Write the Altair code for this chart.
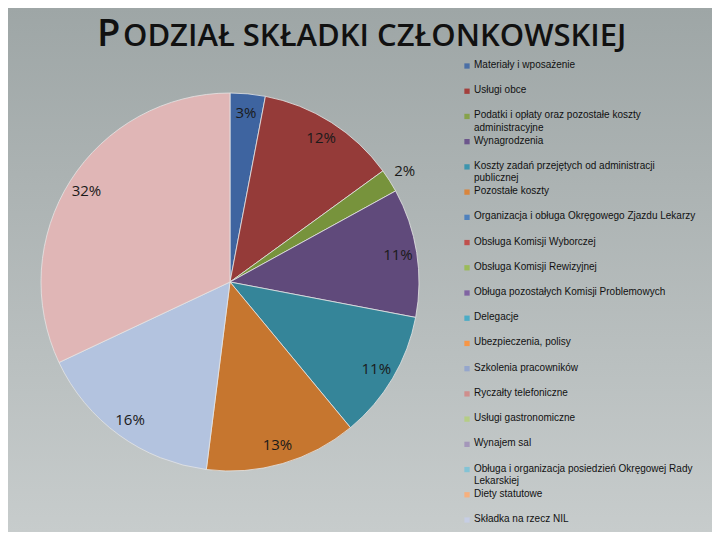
import altair as alt
import pandas as pd

title_parts = ["P", "ODZIAŁ SKŁADKI CZŁONKOWSKIEJ"]

categories = [
    "Materiały i wposażenie",
    "Usługi obce",
    "Podatki i opłaty oraz pozostałe koszty administracyjne",
    "Wynagrodzenia",
    "Koszty zadań przejętych od administracji publicznej",
    "Pozostałe koszty",
    "Organizacja i obługa Okręgowego Zjazdu Lekarzy",
    "Obsługa Komisji Wyborczej",
    "Obsługa Komisji Rewizyjnej",
    "Obługa pozostałych Komisji Problemowych",
    "Delegacje",
    "Ubezpieczenia, polisy",
    "Szkolenia pracowników",
    "Ryczałty telefoniczne",
    "Usługi gastronomiczne",
    "Wynajem sal",
    "Obługa i organizacja posiedzień Okręgowej Rady Lekarskiej",
    "Diety statutowe",
    "Składka na rzecz NIL",
]

legend_labels = [
    "Materiały i wposażenie",
    "Usługi obce",
    "Podatki i opłaty oraz pozostałe koszty\nadministracyjne",
    "Wynagrodzenia",
    "Koszty zadań przejętych od administracji\npublicznej",
    "Pozostałe koszty",
    "Organizacja i obługa Okręgowego Zjazdu Lekarzy",
    "Obsługa Komisji Wyborczej",
    "Obsługa Komisji Rewizyjnej",
    "Obługa pozostałych Komisji Problemowych",
    "Delegacje",
    "Ubezpieczenia, polisy",
    "Szkolenia pracowników",
    "Ryczałty telefoniczne",
    "Usługi gastronomiczne",
    "Wynajem sal",
    "Obługa i organizacja posiedzień Okręgowej Rady\nLekarskiej",
    "Diety statutowe",
    "Składka na rzecz NIL",
]

values = [3, 12, 2, 11, 11, 13, 0, 0, 0, 0, 0, 0, 16, 32, 0, 0, 0, 0, 0]

slice_colors = [
    "#3e64a0", "#953b39", "#77933c", "#604a7b", "#358599", "#c6762f",
    "#4f7fbb", "#c0504d", "#9bbb59", "#8064a2", "#4bacc6", "#f79646",
    "#b3c3df", "#e0b6b6", "#c3d69b", "#a898bf", "#8ccbdc", "#f9b882",
    "#d0d8ea",
]

legend_colors = [
    "#4b6fa6", "#a33f3c", "#86a24a", "#6c568c", "#3d95ae", "#d9853c",
    "#4f81bd", "#c0504d", "#9bbb59", "#8064a2", "#4bacc6", "#f79646",
    "#95a6cc", "#cf8e8c", "#b5cd85", "#a497ba", "#83c3d5", "#f6b07e",
    "#c6cee4",
]

df = pd.DataFrame({
    "cat": categories,
    "label": legend_labels,
    "value": values,
    "idx": list(range(len(categories))),
})

W, H = 704, 524
CX, CY, R = 222, 274, 189

bg = alt.Chart(pd.DataFrame({"a": [0]})).mark_rect(
    color=alt.Gradient(
        gradient="linear",
        stops=[alt.GradientStop(color="#9ea6a6", offset=0),
               alt.GradientStop(color="#c7cccc", offset=1)],
        x1=0, x2=0, y1=0, y2=1,
    )
).encode(x=alt.value(0), x2=alt.value(W), y=alt.value(0), y2=alt.value(H))

base = alt.Chart(df).transform_filter("datum.value > 0")

pie = base.mark_arc(radius=R, stroke="#e4e4e4", strokeWidth=0.8).encode(
    theta=alt.Theta("value:Q", stack=True),
    color=alt.Color("cat:N", scale=alt.Scale(domain=categories, range=slice_colors), legend=None),
    order=alt.Order("idx:Q"),
    x=alt.value(CX),
    y=alt.value(CY),
)

lab_base = base.transform_calculate(
    big="datum.value >= 3 ? datum.value + '%' : ''",
    small="datum.value < 3 ? datum.value + '%' : ''",
)

labels_in = lab_base.mark_text(
    font="Open Sans", fontSize=15, color="#1a1a1a", radius=170
).encode(
    theta=alt.Theta("value:Q", stack=True),
    order=alt.Order("idx:Q"),
    text="big:N",
    x=alt.value(CX),
    y=alt.value(CY),
)

labels_out = lab_base.mark_text(
    font="Open Sans", fontSize=15, color="#1a1a1a", radius=207
).encode(
    theta=alt.Theta("value:Q", stack=True),
    order=alt.Order("idx:Q"),
    text="small:N",
    x=alt.value(CX),
    y=alt.value(CY),
)

yscale = alt.Scale(domain=categories, range=[58, 512], type="point", padding=0)

leg_sq = alt.Chart(df).mark_square(size=28, opacity=1, strokeWidth=0).encode(
    y=alt.Y("cat:N", scale=yscale, axis=None),
    x=alt.value(459),
    fill=alt.Fill("cat:N", scale=alt.Scale(domain=categories, range=legend_colors), legend=None),
)

leg_txt = alt.Chart(df).mark_text(
    align="left", baseline="top", dy=-6, lineBreak="\n", lineHeight=12.5,
    font="Liberation Sans", fontSize=10, color="#111111",
).encode(
    y=alt.Y("cat:N", scale=yscale, axis=None),
    x=alt.value(466),
    text="label:N",
)

tdf = pd.DataFrame({"t": [title_parts[0]]})
t1 = alt.Chart(tdf).mark_text(
    align="left", baseline="alphabetic", font="Open Sans", fontWeight=600,
    fontSize=38, color="#111111"
).encode(text=alt.value(title_parts[0]), x=alt.value(89), y=alt.value(38))
t2 = alt.Chart(tdf).mark_text(
    align="left", baseline="alphabetic", font="Open Sans", fontWeight=600,
    fontSize=31, color="#111111"
).encode(text=alt.value(title_parts[1]), x=alt.value(115), y=alt.value(38))

chart = alt.layer(bg, pie, labels_in, labels_out, leg_sq, leg_txt, t1, t2).properties(
    width=W, height=H, padding=0, autosize="none"
).resolve_scale(color="independent", fill="independent").configure_view(
    strokeWidth=0
).configure(background="#b0b6b6")

chart.save("out.html", embed_options={"renderer": "svg", "actions": False})
